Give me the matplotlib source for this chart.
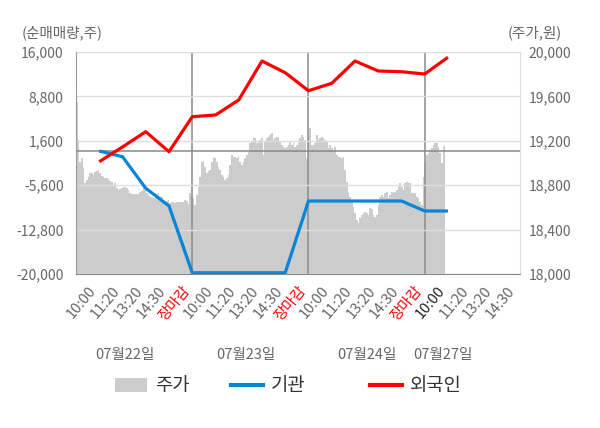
import numpy as np
import matplotlib
matplotlib.use("Agg")
import matplotlib.pyplot as plt
from matplotlib.patches import Patch
from matplotlib.lines import Line2D
import matplotlib.transforms as mtransforms

plt.rcParams['font.family'] = ['Noto Sans CJK KR', 'DejaVu Sans']

# ---- data ----
tick_labels = ["10:00", "11:20", "13:20", "14:30", "장마감"] * 3 + ["10:00", "11:20", "13:20", "14:30"]
date_labels = ["07월22일", "07월23일", "07월24일", "07월27일"]

# net buying (shares), one point per time slot (slots 1..16)
inst = [-54, -978, -6100, -8970, -19800, -19800, -19800, -19800, -19800,
        -8160, -8160, -8160, -8160, -8160, -9780, -9780]
foreign = [-1790, 600, 3080, -170, 5510, 5780, 8220, 14540, 12640,
           9720, 10920, 14540, 12920, 12800, 12430, 15140]

# stock price (won), intraday samples
price = [19553, 19208, 19013, 19043, 18953, 18818, 18848, 18878, 18908, 18908,
         18893, 18917, 18929, 18938, 18908, 18884, 18878, 18869, 18863, 18854,
         18839, 18827, 18803, 18818, 18773, 18758, 18764, 18779, 18788, 18788,
         18773, 18758, 18734, 18722, 18719, 18719, 18725, 18722, 18737, 18749,
         18773, 18758, 18728, 18713, 18707, 18695, 18683, 18689, 18719, 18728,
         18704, 18698, 18668, 18653, 18659, 18668, 18638, 18647, 18647, 18644,
         18647, 18653, 18647, 18653, 18653, 18665, 18659, 18629,
         18728, 18713, 18683, 18623, 18713, 18788, 18878, 19013, 19019, 18968,
         18908, 18929, 18938, 19013, 19058, 19043, 19013, 18968, 18938, 18893,
         18878, 18848, 18863, 18893, 18983, 19073, 19058, 19058, 19043, 19067,
         19013, 18983, 19013, 19043, 19073, 19103, 19178, 19193, 19238, 19223,
         19178, 19193, 19208, 19223, 19073, 19193, 19223, 19238, 19253, 19268,
         19208, 19223, 19238, 19238, 19193, 19163, 19148, 19133, 19148, 19163,
         19193, 19163, 19178, 19148, 19163, 19178, 19223, 19253, 19238,
         19208, 19043, 19223, 19313, 19163, 19163, 19178, 19253, 19208, 19223,
         19238, 19223, 19208, 19193, 19133, 19163, 19133, 19118, 19148, 19073,
         19058, 19058, 19043, 19058, 18938, 18833, 18728, 18698, 18653, 18608,
         18548, 18488, 18458, 18503, 18533, 18548, 18563, 18548, 18533, 18593,
         18587, 18533, 18518, 18533, 18623, 18698, 18713, 18698, 18728, 18743,
         18683, 18713, 18743, 18728, 18743, 18758, 18788, 18818, 18788, 18758,
         18818, 18827, 18818, 18818, 18728, 18728, 18728, 18698, 18683, 18653,
         18623, 18878, 18998, 19073, 19088, 19118, 19133, 19163, 19178, 19178,
         19148, 19088, 19000, 19148, 19163]

slots = np.arange(1, len(inst) + 1)
price_x = np.linspace(0.03, 15.88, len(price))
tick_pos = np.arange(1, len(tick_labels) + 1)
day_close = [5, 10, 15]
date_pos = [2.1, 7.3, 12.5, 15.8]

GRAY_TXT = "#666666"

fig = plt.figure(figsize=(6.0, 4.28), dpi=100)
ax1 = fig.add_axes([0.1267, 0.3598, 0.74, 0.5187])
ax2 = ax1.twinx()
ax1.set_zorder(ax2.get_zorder() + 1)
ax1.patch.set_visible(False)
ax2.set_facecolor("#f4f4f4")

# price area on right axis
ax2.fill_between(price_x, 18000, price, color="#cccccc", linewidth=0, step="mid")
ax2.set_ylim(18000, 20000)
ax2.set_yticks(np.arange(18000, 20001, 400))
ax2.set_yticklabels([f"{v:,}" for v in np.arange(18000, 20001, 400)])

# net buying lines on left axis
ax1.set_xlim(0, 19.1)
ax1.set_ylim(-20000, 16000)
yt = np.arange(-20000, 16001, 7200)
ax1.set_yticks(yt)
ax1.set_yticklabels([f"{v:,}" for v in yt])
ax1.grid(axis="y", color="#dddddd", linewidth=1)
ax1.axhline(0, color="#888888", linewidth=1.1, zorder=1.5)
for xc in day_close:
    ax1.axvline(xc, color="#8a8a8a", linewidth=1.1, zorder=1.5)

ax1.plot(slots, inst, color="#0a84d6", linewidth=2.3, zorder=3, solid_capstyle="butt")
ax1.plot(slots, foreign, color="#ff0000", linewidth=2.3, zorder=4, solid_capstyle="butt")

# x ticks
ax1.set_xticks(tick_pos)
ax1.set_xticklabels(tick_labels, rotation=50, ha="right", fontsize=10.5)
ax1.set_xticks(day_close, minor=True)
ax1.tick_params(axis="x", which="major", length=0, pad=7)
ax1.tick_params(axis="x", which="minor", length=4, color="#8a8a8a")
for i, lab in enumerate(ax1.get_xticklabels()):
    if tick_labels[i] == "장마감":
        lab.set_color("#ff0000")
    elif i == 15:
        lab.set_color("#222222")
    else:
        lab.set_color(GRAY_TXT)

ax1.tick_params(axis="y", length=0, pad=9, labelsize=10, labelcolor=GRAY_TXT)
ax2.tick_params(axis="y", length=0, pad=6, labelsize=10, labelcolor=GRAY_TXT)

for a in (ax1, ax2):
    a.spines["top"].set_visible(False)
ax1.spines["left"].set_color("#999999")
ax1.spines["bottom"].set_color("#888888")
ax1.spines["right"].set_visible(False)
ax2.spines["left"].set_visible(False)
ax2.spines["bottom"].set_visible(False)
ax2.spines["right"].set_color("#dddddd")

# date labels under the time ticks
trans = mtransforms.blended_transform_factory(ax1.transData, ax1.transAxes)
for xp, d in zip(date_pos, date_labels):
    ax1.text(xp, -0.365, d, transform=trans, ha="center", va="center",
             fontsize=10.5, color=GRAY_TXT)

# axis titles
fig.text(22 / 600, 1 - 33 / 428, "(순매매량,주)", ha="left", va="center",
         fontsize=10.5, color=GRAY_TXT)
fig.text(562 / 600, 1 - 33 / 428, "(주가,원)", ha="right", va="center",
         fontsize=10.5, color=GRAY_TXT)

# legend
entries = [
    (Patch(facecolor="#cccccc", edgecolor="none"), "주가", 115),
    (Line2D([], [], color="#0a84d6", linewidth=3), "기관", 231),
    (Line2D([], [], color="#ff0000", linewidth=3), "외국인", 370),
]
for h, lab, px in entries:
    fig.legend([h], [lab], loc="center left", bbox_to_anchor=(px / 600, 1 - 386 / 428),
               frameon=False, fontsize=13.5, handlelength=1.7, handleheight=0.85,
               handletextpad=0.45, borderpad=0, borderaxespad=0, labelcolor="#333333")

fig.savefig("out.png", dpi=100)
